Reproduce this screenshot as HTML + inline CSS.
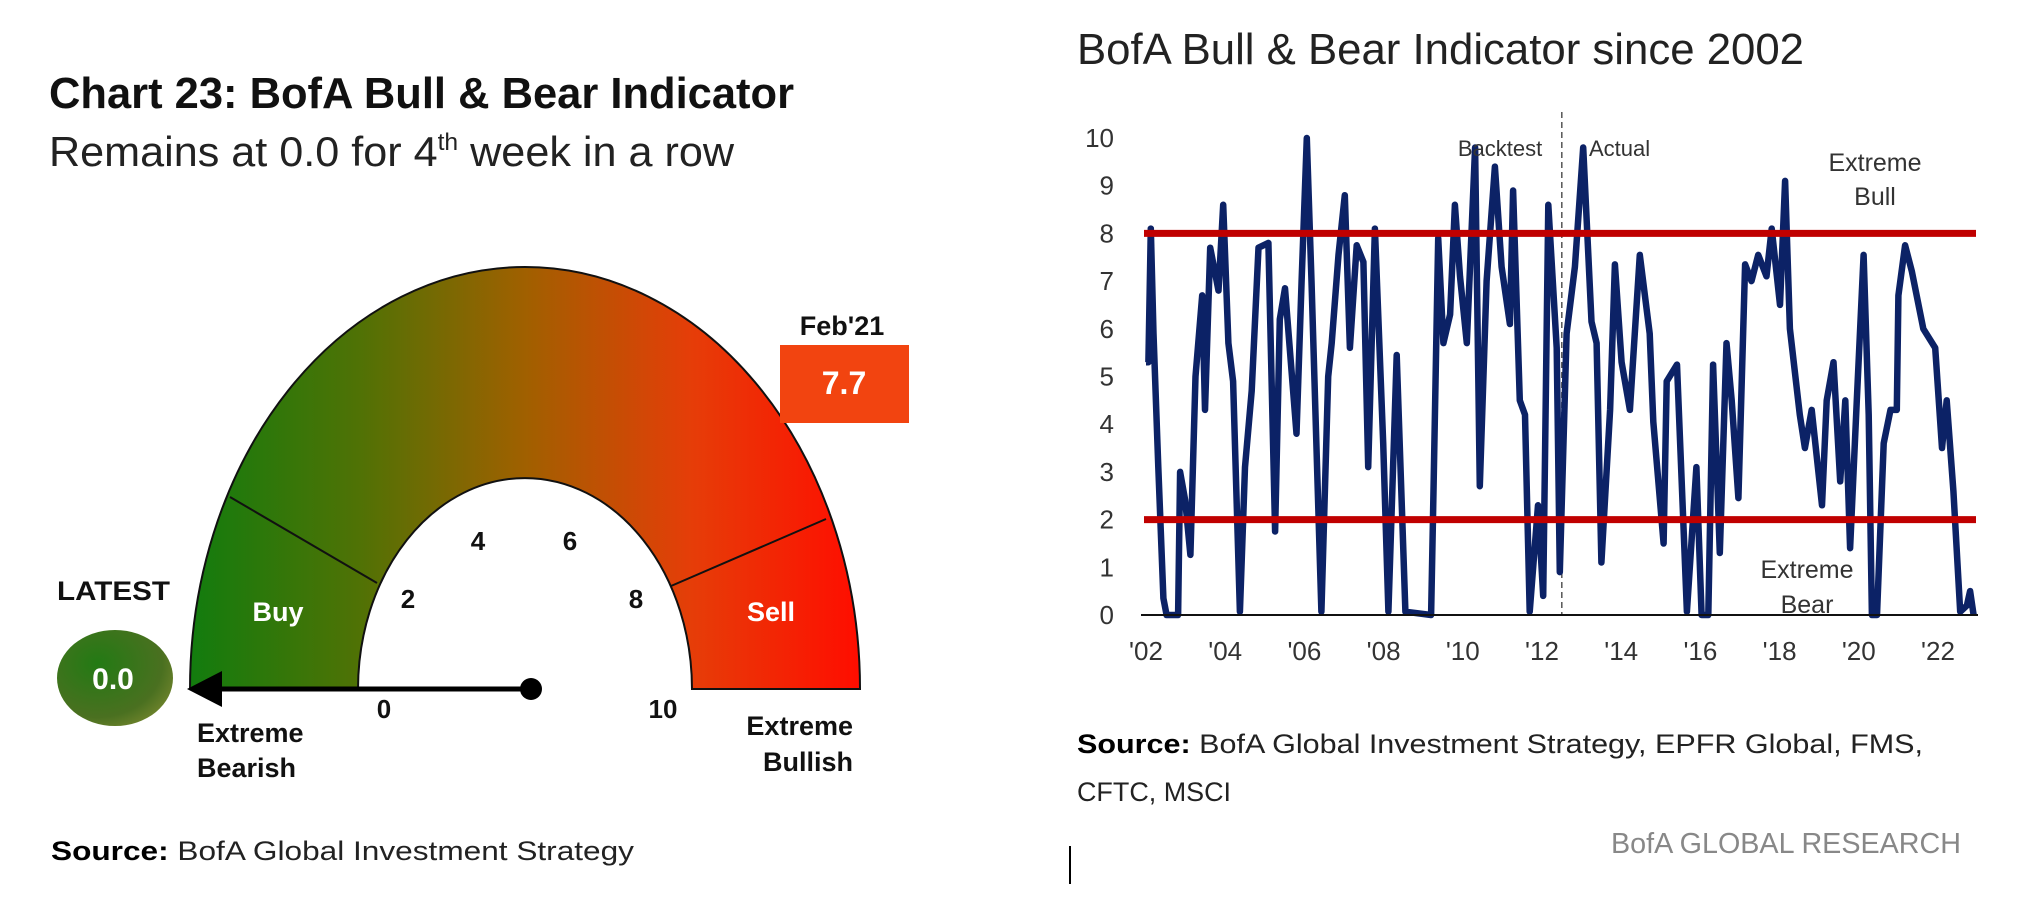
<!DOCTYPE html>
<html><head><meta charset="utf-8"><style>
html,body{margin:0;padding:0;background:#fff;width:2018px;height:906px;overflow:hidden}
svg text{font-family:"Liberation Sans",sans-serif}
</style></head><body>
<svg id="root" width="2018" height="906" viewBox="0 0 2018 906" xmlns="http://www.w3.org/2000/svg">
<defs>
<linearGradient id="gg" x1="190" y1="0" x2="860" y2="0" gradientUnits="userSpaceOnUse">
<stop offset="0" stop-color="#127c0e"/><stop offset="0.25" stop-color="#4f7205"/><stop offset="0.5" stop-color="#a06000"/><stop offset="0.75" stop-color="#e63d08"/><stop offset="1" stop-color="#ff0d00"/>
</linearGradient>
<radialGradient id="eg" cx="0.35" cy="0.35" r="0.8"><stop offset="0" stop-color="#237a14"/><stop offset="0.7" stop-color="#4a7020"/><stop offset="1" stop-color="#7c8a30"/></radialGradient>
</defs>
<g>
<text x="49" y="108" font-size="44" font-weight="bold" fill="#111" textLength="745" lengthAdjust="spacingAndGlyphs">Chart 23: BofA Bull &amp; Bear Indicator</text>
<text x="49" y="166" font-size="42" fill="#222" textLength="685" lengthAdjust="spacingAndGlyphs">Remains at 0.0 for 4<tspan font-size="24" dy="-16">th</tspan><tspan dy="16"> week in a row</tspan></text>
<path d="M190 689 A335 422 0 0 1 860 689 L692 689 A167 211 0 0 0 358 689 Z" fill="url(#gg)" stroke="#111" stroke-width="2"/>
<line x1="230" y1="497" x2="377" y2="583" stroke="#111" stroke-width="2"/>
<line x1="826" y1="519" x2="671" y2="586" stroke="#111" stroke-width="2"/>
<g font-size="26" font-weight="bold" fill="#111" text-anchor="middle">
<text x="384" y="718">0</text><text x="408" y="608">2</text><text x="478" y="550">4</text><text x="570" y="550">6</text><text x="636" y="608">8</text><text x="663" y="718">10</text>
</g>
<text x="278" y="621" font-size="27" font-weight="bold" fill="#fff" text-anchor="middle">Buy</text>
<text x="771" y="621" font-size="27" font-weight="bold" fill="#fff" text-anchor="middle">Sell</text>
<text x="842" y="335" font-size="27" font-weight="bold" fill="#111" text-anchor="middle">Feb'21</text>
<rect x="780" y="345" width="129" height="78" fill="#f24410"/>
<text x="844" y="394" font-size="32" font-weight="bold" fill="#fff" text-anchor="middle">7.7</text>
<text x="57" y="600" font-size="27" font-weight="bold" fill="#111" textLength="113" lengthAdjust="spacingAndGlyphs">LATEST</text>
<ellipse cx="115" cy="678" rx="58" ry="48" fill="url(#eg)"/>
<text x="113" y="689" font-size="30" font-weight="bold" fill="#fff" text-anchor="middle">0.0</text>
<line x1="531" y1="689" x2="215" y2="689" stroke="#000" stroke-width="5"/>
<polygon points="187,689 222,671 222,707" fill="#000"/>
<circle cx="531" cy="689" r="11" fill="#000"/>
<text x="197" y="742" font-size="27" font-weight="bold" fill="#111">Extreme</text>
<text x="197" y="777" font-size="27" font-weight="bold" fill="#111">Bearish</text>
<text x="853" y="735" font-size="27" font-weight="bold" fill="#111" text-anchor="end">Extreme</text>
<text x="853" y="771" font-size="27" font-weight="bold" fill="#111" text-anchor="end">Bullish</text>
<text x="51" y="860" font-size="27" fill="#222" textLength="583" lengthAdjust="spacingAndGlyphs"><tspan font-weight="bold" fill="#000">Source:</tspan> BofA Global Investment Strategy</text>
</g>
<g>
<text x="1077" y="64" font-size="44" fill="#222" textLength="727" lengthAdjust="spacingAndGlyphs">BofA Bull &amp; Bear Indicator since 2002</text>
<g id="chart"></g>
<text x="1077" y="753" font-size="27" fill="#222" textLength="846" lengthAdjust="spacingAndGlyphs"><tspan font-weight="bold" fill="#000">Source:</tspan> BofA Global Investment Strategy, EPFR Global, FMS,</text>
<text x="1077" y="801" font-size="27" fill="#222" textLength="154" lengthAdjust="spacingAndGlyphs">CFTC, MSCI</text>
<text x="1961" y="853" font-size="29" fill="#888" text-anchor="end" textLength="350" lengthAdjust="spacingAndGlyphs">BofA GLOBAL RESEARCH</text>
<rect x="1069" y="846" width="2" height="38" fill="#000"/>
</g>
</svg>
<script>
const years = [0.0,0.06,0.12,0.19,0.31,0.44,0.52,0.81,0.86,0.99,1.12,1.25,1.42,1.49,1.62,1.83,1.95,2.08,2.2,2.37,2.5,2.67,2.84,3.09,3.26,3.38,3.51,3.8,3.93,4.06,4.18,4.43,4.6,4.69,4.86,5.02,5.15,5.32,5.49,5.61,5.78,5.99,6.12,6.33,6.55,7.2,7.26,7.38,7.51,7.68,7.8,7.93,8.1,8.31,8.43,8.6,8.81,8.98,9.19,9.27,9.44,9.57,9.69,9.9,10.03,10.16,10.37,10.45,10.62,10.83,11.04,11.25,11.38,11.5,11.72,11.84,12.01,12.22,12.47,12.72,12.81,13.07,13.15,13.41,13.66,13.9,14.03,14.2,14.32,14.49,14.66,14.79,14.96,15.13,15.29,15.46,15.67,15.8,16.01,16.14,16.26,16.51,16.64,16.81,17.07,17.19,17.36,17.53,17.66,17.78,17.95,18.12,18.25,18.33,18.46,18.63,18.8,18.96,19.0,19.17,19.34,19.63,19.93,20.1,20.22,20.39,20.56,20.73,20.81,20.9];
const values = [5.3,5.3,8.1,5.9,3.1,0.35,0,0,3.0,2.4,1.26,5.0,6.7,4.3,7.7,6.8,8.6,5.7,4.9,0.07,3.1,4.7,7.7,7.8,1.75,6.2,6.85,3.8,7.0,10.0,7.0,0.07,5.0,5.7,7.55,8.8,5.6,7.75,7.4,3.1,8.1,3.6,0.07,5.45,0.07,0,2.6,7.9,5.7,6.3,8.6,7.1,5.7,9.8,2.7,7.0,9.4,7.3,6.1,8.9,4.5,4.2,0.07,2.3,0.4,8.6,5.6,0.9,5.9,7.3,9.8,6.15,5.7,1.1,4.3,7.35,5.3,4.3,7.55,5.9,4.05,1.5,4.9,5.25,0.07,3.1,0,0,5.25,1.3,5.7,4.5,2.45,7.35,7.0,7.55,7.1,8.1,6.5,9.1,6.0,4.2,3.5,4.3,2.3,4.5,5.3,2.8,4.5,1.4,4.5,7.55,4.2,0,0,3.6,4.3,4.3,6.7,7.75,7.2,6.0,5.6,3.5,4.5,2.6,0.07,0.2,0.5,0];
const yTicks = [0,1,2,3,4,5,6,7,8,9,10];
const xTickYears = [0,2,4,6,8,10,12,14,16,18,20];
const xTickLabels = ["'02","'04","'06","'08","'10","'12","'14","'16","'18","'20","'22"];
const thresholds = [8,2];
const splitYear = 10.5;

const NS = 'http://www.w3.org/2000/svg';
const g = document.getElementById('chart');
const X0 = 1146, XU = 39.6, Y0 = 615, YU = 47.7;
const xS = t => X0 + t * XU;
const yS = v => Y0 - v * YU;
function mk(tag, attrs) { const e = document.createElementNS(NS, tag); for (const k in attrs) e.setAttribute(k, attrs[k]); g.appendChild(e); return e; }

yTicks.forEach(v => {
  const t = mk('text', {x: 1114, y: yS(v) + 9, 'font-size': 26, fill: '#333', 'text-anchor': 'end'});
  
  
  t.textContent = v;
});
xTickYears.forEach((yr, i) => {
  const t = mk('text', {x: xS(yr), y: 660, 'font-size': 26, fill: '#333', 'text-anchor': 'middle'});
  
  
  t.textContent = xTickLabels[i];
});
const sp = mk('line', {x1: xS(splitYear), x2: xS(splitYear), y1: 112, y2: yS(0), stroke: '#555', 'stroke-width': 1.5, 'stroke-dasharray': '6,4'});


let pts = years.map((t, i) => xS(t).toFixed(1) + ',' + yS(values[i]).toFixed(1)).join(' ');
const ln = mk('polyline', {points: pts, fill: 'none', stroke: '#0c2266', 'stroke-width': 6.5, 'stroke-linejoin': 'round'});


const ax = mk('line', {x1: 1141, x2: 1978, y1: yS(0), y2: yS(0), stroke: '#111', 'stroke-width': 2});


thresholds.forEach(v => {
  const l = mk('line', {x1: 1144, x2: 1976, y1: yS(v), y2: yS(v), stroke: '#c00000', 'stroke-width': 7});
  
  
});
const labels = [['Backtest',1500,156,'middle',22],['Actual',1589,156,'start',22],['Extreme',1875,171,'middle',25],['Bull',1875,205,'middle',25],['Extreme',1807,578,'middle',25],['Bear',1807,613,'middle',25]];
labels.forEach(a => {
  const t = mk('text', {x: a[1], y: a[2], 'font-size': a[4], fill: '#333', 'text-anchor': a[3]});
  
  
  t.textContent = a[0];
});
</script>
</body></html>
